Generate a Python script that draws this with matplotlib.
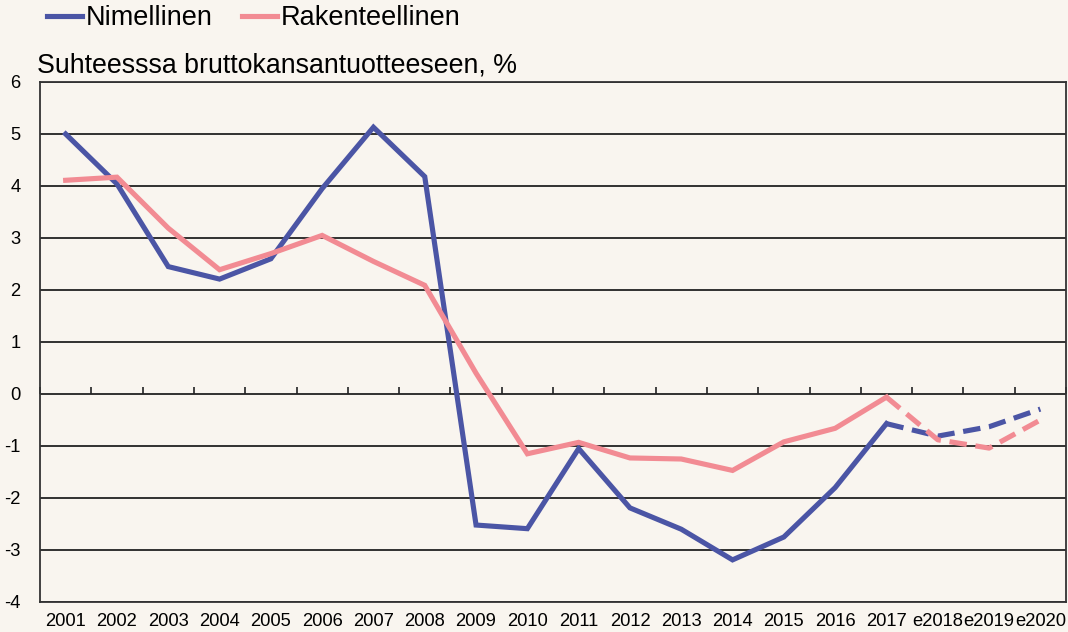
import matplotlib
matplotlib.use("Agg")
import matplotlib.pyplot as plt
import numpy as np

plt.rcParams['font.family'] = ['Liberation Sans', 'DejaVu Sans']

years = ['2001', '2002', '2003', '2004', '2005', '2006', '2007', '2008', '2009', '2010',
         '2011', '2012', '2013', '2014', '2015', '2016', '2017', 'e2018', 'e2019', 'e2020']
nimellinen = [5.0, 4.04, 2.45, 2.21, 2.6, 3.95, 5.13, 4.18, -2.52, -2.59,
              -1.05, -2.19, -2.6, -3.19, -2.75, -1.8, -0.57, -0.81, -0.63, -0.29]
rakenteellinen = [4.11, 4.17, 3.19, 2.39, 2.7, 3.05, 2.55, 2.09, 0.4, -1.15,
                  -0.93, -1.23, -1.25, -1.47, -0.92, -0.66, -0.06, -0.88, -1.04, -0.5]
last_actual = '2017'
series_names = ['Nimellinen', 'Rakenteellinen']
title = 'Suhteesssa bruttokansantuotteeseen, %'
yticks = [-4, -3, -2, -1, 0, 1, 2, 3, 4, 5, 6]

bg = '#f9f5ef'
blue = '#4b55a5'
pink = '#f28b93'

fig = plt.figure(figsize=(10.68, 6.32), dpi=100, facecolor=bg)
ax = fig.add_axes([40/1068, 30/632, (1066-40)/1068, (602-82)/632])
ax.set_facecolor(bg)

x = np.arange(len(years))
k = years.index(last_actual)
lw = 3.7
dash = (3.4, 1.7)

for vals, col, name in [(nimellinen, blue, series_names[0]), (rakenteellinen, pink, series_names[1])]:
    ax.plot(x[:k+1], vals[:k+1], color=col, lw=lw, label=name, solid_joinstyle='miter', zorder=3)
    ax.plot(x[k:], vals[k:], color=col, lw=lw, dashes=dash, zorder=3)

ax.set_xlim(-0.5, len(years) - 0.5)
ax.set_ylim(-4, 6)
ax.set_yticks(yticks)
ax.set_yticklabels([str(v) for v in yticks])
ax.yaxis.grid(True, color='#222222', lw=1.3)
ax.set_axisbelow(True)
ax.set_xticks(x)
ax.set_xticklabels(years)
ax.tick_params(axis='x', length=0, pad=8, labelsize=13.2)
ax.tick_params(axis='y', length=0, pad=14, labelsize=13.2)
for s in ax.spines.values():
    s.set_color('#333333')
    s.set_linewidth(1.3)

# tick marks at category boundaries on the zero line
sec = ax.secondary_xaxis((0 - (-4)) / (6 - (-4)))
sec.set_xticks(np.arange(len(years) + 1) - 0.5)
sec.tick_params(direction='in', length=5, width=1.3, color='#333333', labelbottom=False)
sec.spines['bottom'].set_visible(False)

leg = fig.legend(loc='center left', bbox_to_anchor=(47/1068, 1 - 18/632), ncol=2, frameon=False,
                 fontsize=19.5, handlelength=1.3, handletextpad=0.12, columnspacing=1.1,
                 borderaxespad=0, borderpad=0)
fig.text(37/1068, 1 - 72/632, title, fontsize=19.3, ha='left', va='baseline')

fig.savefig('out.png', dpi=100, facecolor=bg)
